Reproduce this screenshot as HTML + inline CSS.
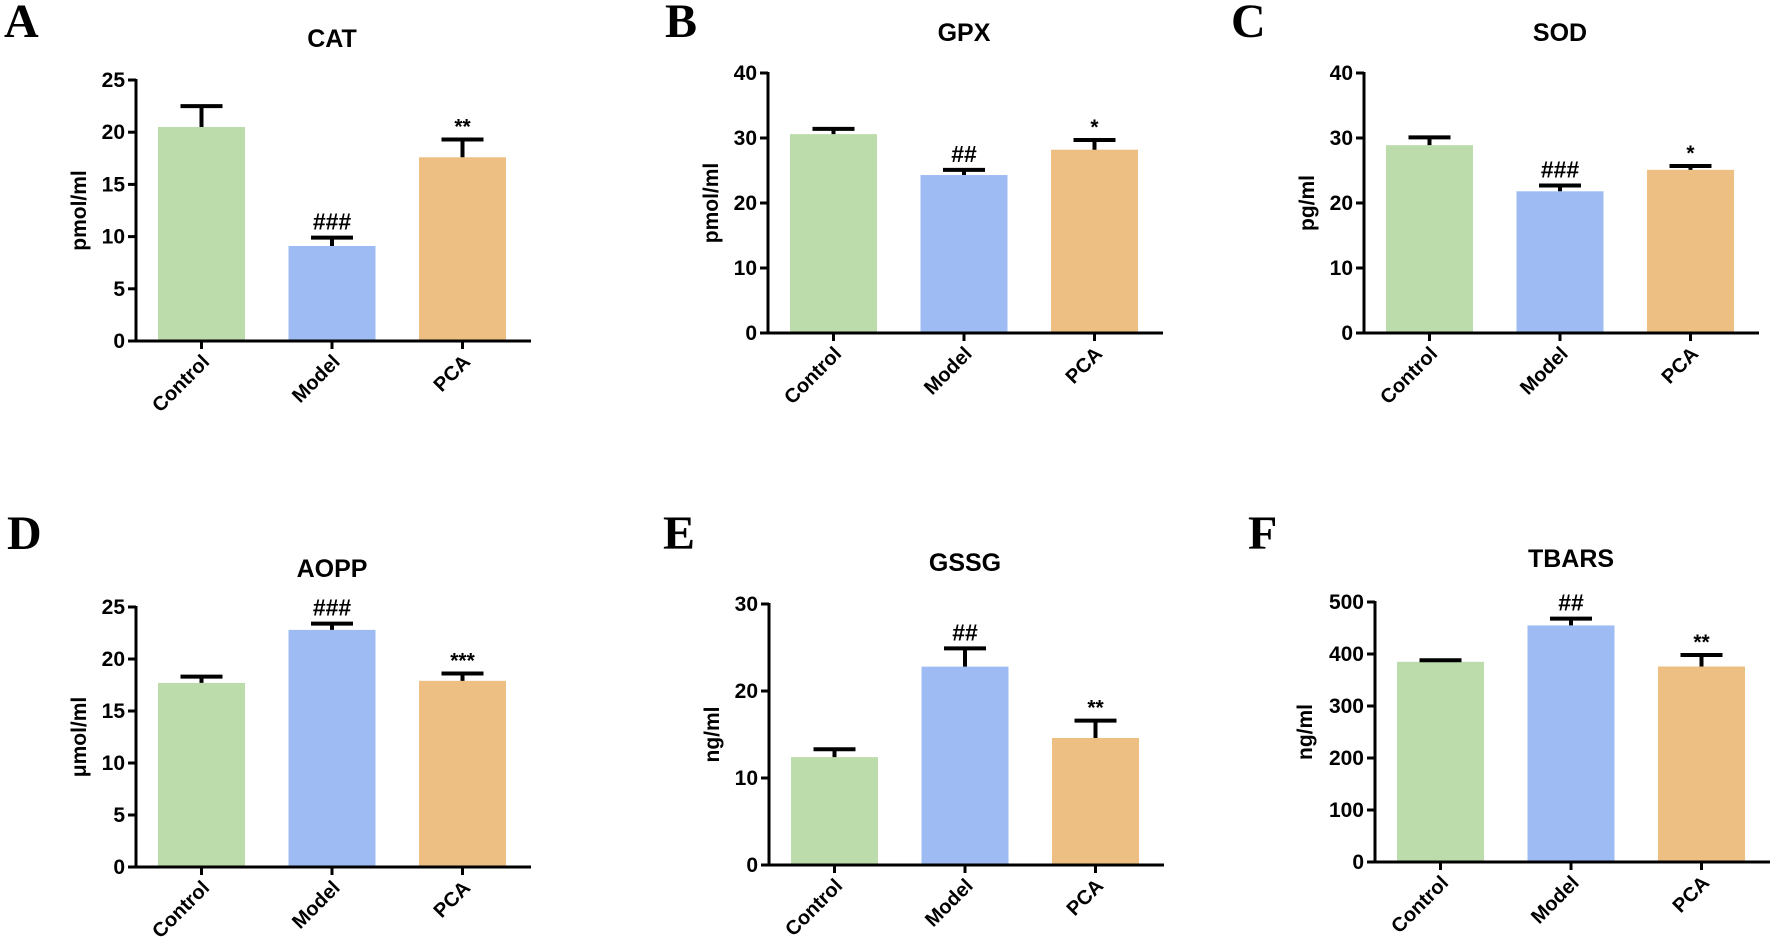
<!DOCTYPE html>
<html><head><meta charset="utf-8"><style>
html,body{margin:0;padding:0;background:#fff;}
svg{display:block;}
text{font-family:"Liberation Sans",Arial,sans-serif;font-weight:bold;fill:#000;}
.letter{font-family:"Liberation Serif","Times New Roman",serif;font-size:48px;}
</style></head><body>
<svg id="fig" width="1772" height="941" viewBox="0 0 1772 941" xmlns="http://www.w3.org/2000/svg"></svg>
<script>
const categories = ["Control","Model","PCA"];
const colors = ["#bcdcab","#9ebcf3","#eebf82"];
const titles = ["CAT","GPX","SOD","AOPP","GSSG","TBARS"];
const letters = ["A","B","C","D","E","F"];
const yLabels = ["pmol/ml","pmol/ml","pg/ml","\u03bcmol/ml","ng/ml","ng/ml"];
const yMax = [25,40,40,25,30,500];
const yStep = [5,10,10,5,10,100];
const meanCAT = [20.5,9.1,17.6];
const errCAT = [22.5,9.9,19.3];
const meanGPX = [30.6,24.3,28.2];
const errGPX = [31.4,25.1,29.7];
const meanSOD = [28.9,21.8,25.1];
const errSOD = [30.1,22.7,25.7];
const meanAOPP = [17.7,22.8,17.9];
const errAOPP = [18.3,23.4,18.6];
const meanGSSG = [12.4,22.8,14.6];
const errGSSG = [13.3,24.9,16.6];
const meanTBARS = [385,455,376];
const errTBARS = [388,468,398];
const sigCAT = ["","###","**"];
const sigGPX = ["","##","*"];
const sigSOD = ["","###","*"];
const sigAOPP = ["","###","***"];
const sigGSSG = ["","##","**"];
const sigTBARS = ["","##","**"];
const means = [meanCAT,meanGPX,meanSOD,meanAOPP,meanGSSG,meanTBARS];
const errs = [errCAT,errGPX,errSOD,errAOPP,errGSSG,errTBARS];
const sigs = [sigCAT,sigGPX,sigSOD,sigAOPP,sigGSSG,sigTBARS];

// layout (not data)
const layout = [
 {ax:136,y0:341,yt:80,lx:4,ly:37,ty:47,yo:50},
 {ax:768,y0:333,yt:73,lx:665,ly:37,ty:41,yo:50},
 {ax:1364,y0:333,yt:73,lx:1231,ly:37,ty:41,yo:50},
 {ax:136,y0:867,yt:607,lx:7,ly:549,ty:577,yo:50},
 {ax:769,y0:865,yt:604,lx:663,ly:549,ty:571,yo:50},
 {ax:1375,y0:862,yt:602,lx:1248,ly:549,ty:567,yo:63}
];
const NS="http://www.w3.org/2000/svg";
const svg=document.getElementById('fig');
function mk(tag,attrs,parent){const e=document.createElementNS(NS,tag);for(const k in attrs)e.setAttribute(k,attrs[k]);(parent||svg).appendChild(e);return e;}

layout.forEach((L,p)=>{
  const g=mk('g',{});
  
  
  const yScale=v=>L.y0-(v/yMax[p])*(L.y0-L.yt);
  const xBar=i=>L.ax+22+i*130.5;
  const bw=87;
  const xEnd=L.ax+395;
  const lt=mk('text',{x:L.lx,y:L.ly,class:'letter'},g);lt.textContent=letters[p];
  
  
  const tt=mk('text',{x:L.ax+196,y:L.ty,'font-size':25,'text-anchor':'middle'},g);tt.textContent=titles[p];
  
  
  const midY=(L.y0+L.yt)/2;
  const yl=mk('text',{x:0,y:0,'font-size':21,'text-anchor':'middle',transform:`translate(${L.ax-L.yo},${midY}) rotate(-90)`},g);yl.textContent=yLabels[p];
  
  
  categories.forEach((c,i)=>{
    const x=xBar(i), top=yScale(means[p][i]), et=yScale(errs[p][i]);
    const r=mk('rect',{x:x,y:top,width:bw,height:L.y0-top,fill:colors[i]},g);
    
    
    const cx=x+bw/2;
    const eb=mk('path',{d:`M${cx},${top} V${et} M${cx-21},${et} H${cx+21}`,stroke:'#000','stroke-width':4,fill:'none'},g);
    
    
    if(sigs[p][i]){
      const isHash=sigs[p][i].indexOf('#')>=0;
      const s=mk('text',{x:cx,y:et-(isHash?8:6),'font-size':isHash?23:21,'text-anchor':'middle'},g);s.textContent=sigs[p][i];
      
      
    }
    mk('line',{x1:cx,x2:cx,y1:L.y0,y2:L.y0+8,stroke:'#000','stroke-width':3},g);
    const cl=mk('text',{x:0,y:0,'font-size':20,'text-anchor':'end',transform:`translate(${cx+9},${L.y0+22}) rotate(-45)`},g);cl.textContent=c;
    
    
  });
  const ya=mk('line',{x1:L.ax,x2:L.ax,y1:L.yt-1,y2:L.y0+1.5,stroke:'#000','stroke-width':3},g);
  
  
  const xa=mk('line',{x1:L.ax-8,x2:xEnd,y1:L.y0,y2:L.y0,stroke:'#000','stroke-width':3},g);
  
  
  for(let v=0;v<=yMax[p];v+=yStep[p]){
    const y=yScale(v);
    mk('line',{x1:L.ax-8,x2:L.ax,y1:y,y2:y,stroke:'#000','stroke-width':3},g);
    const tl=mk('text',{x:L.ax-11,y:y+7,'font-size':21,'text-anchor':'end'},g);tl.textContent=v;
    
    
  }
});
</script>
</body></html>
